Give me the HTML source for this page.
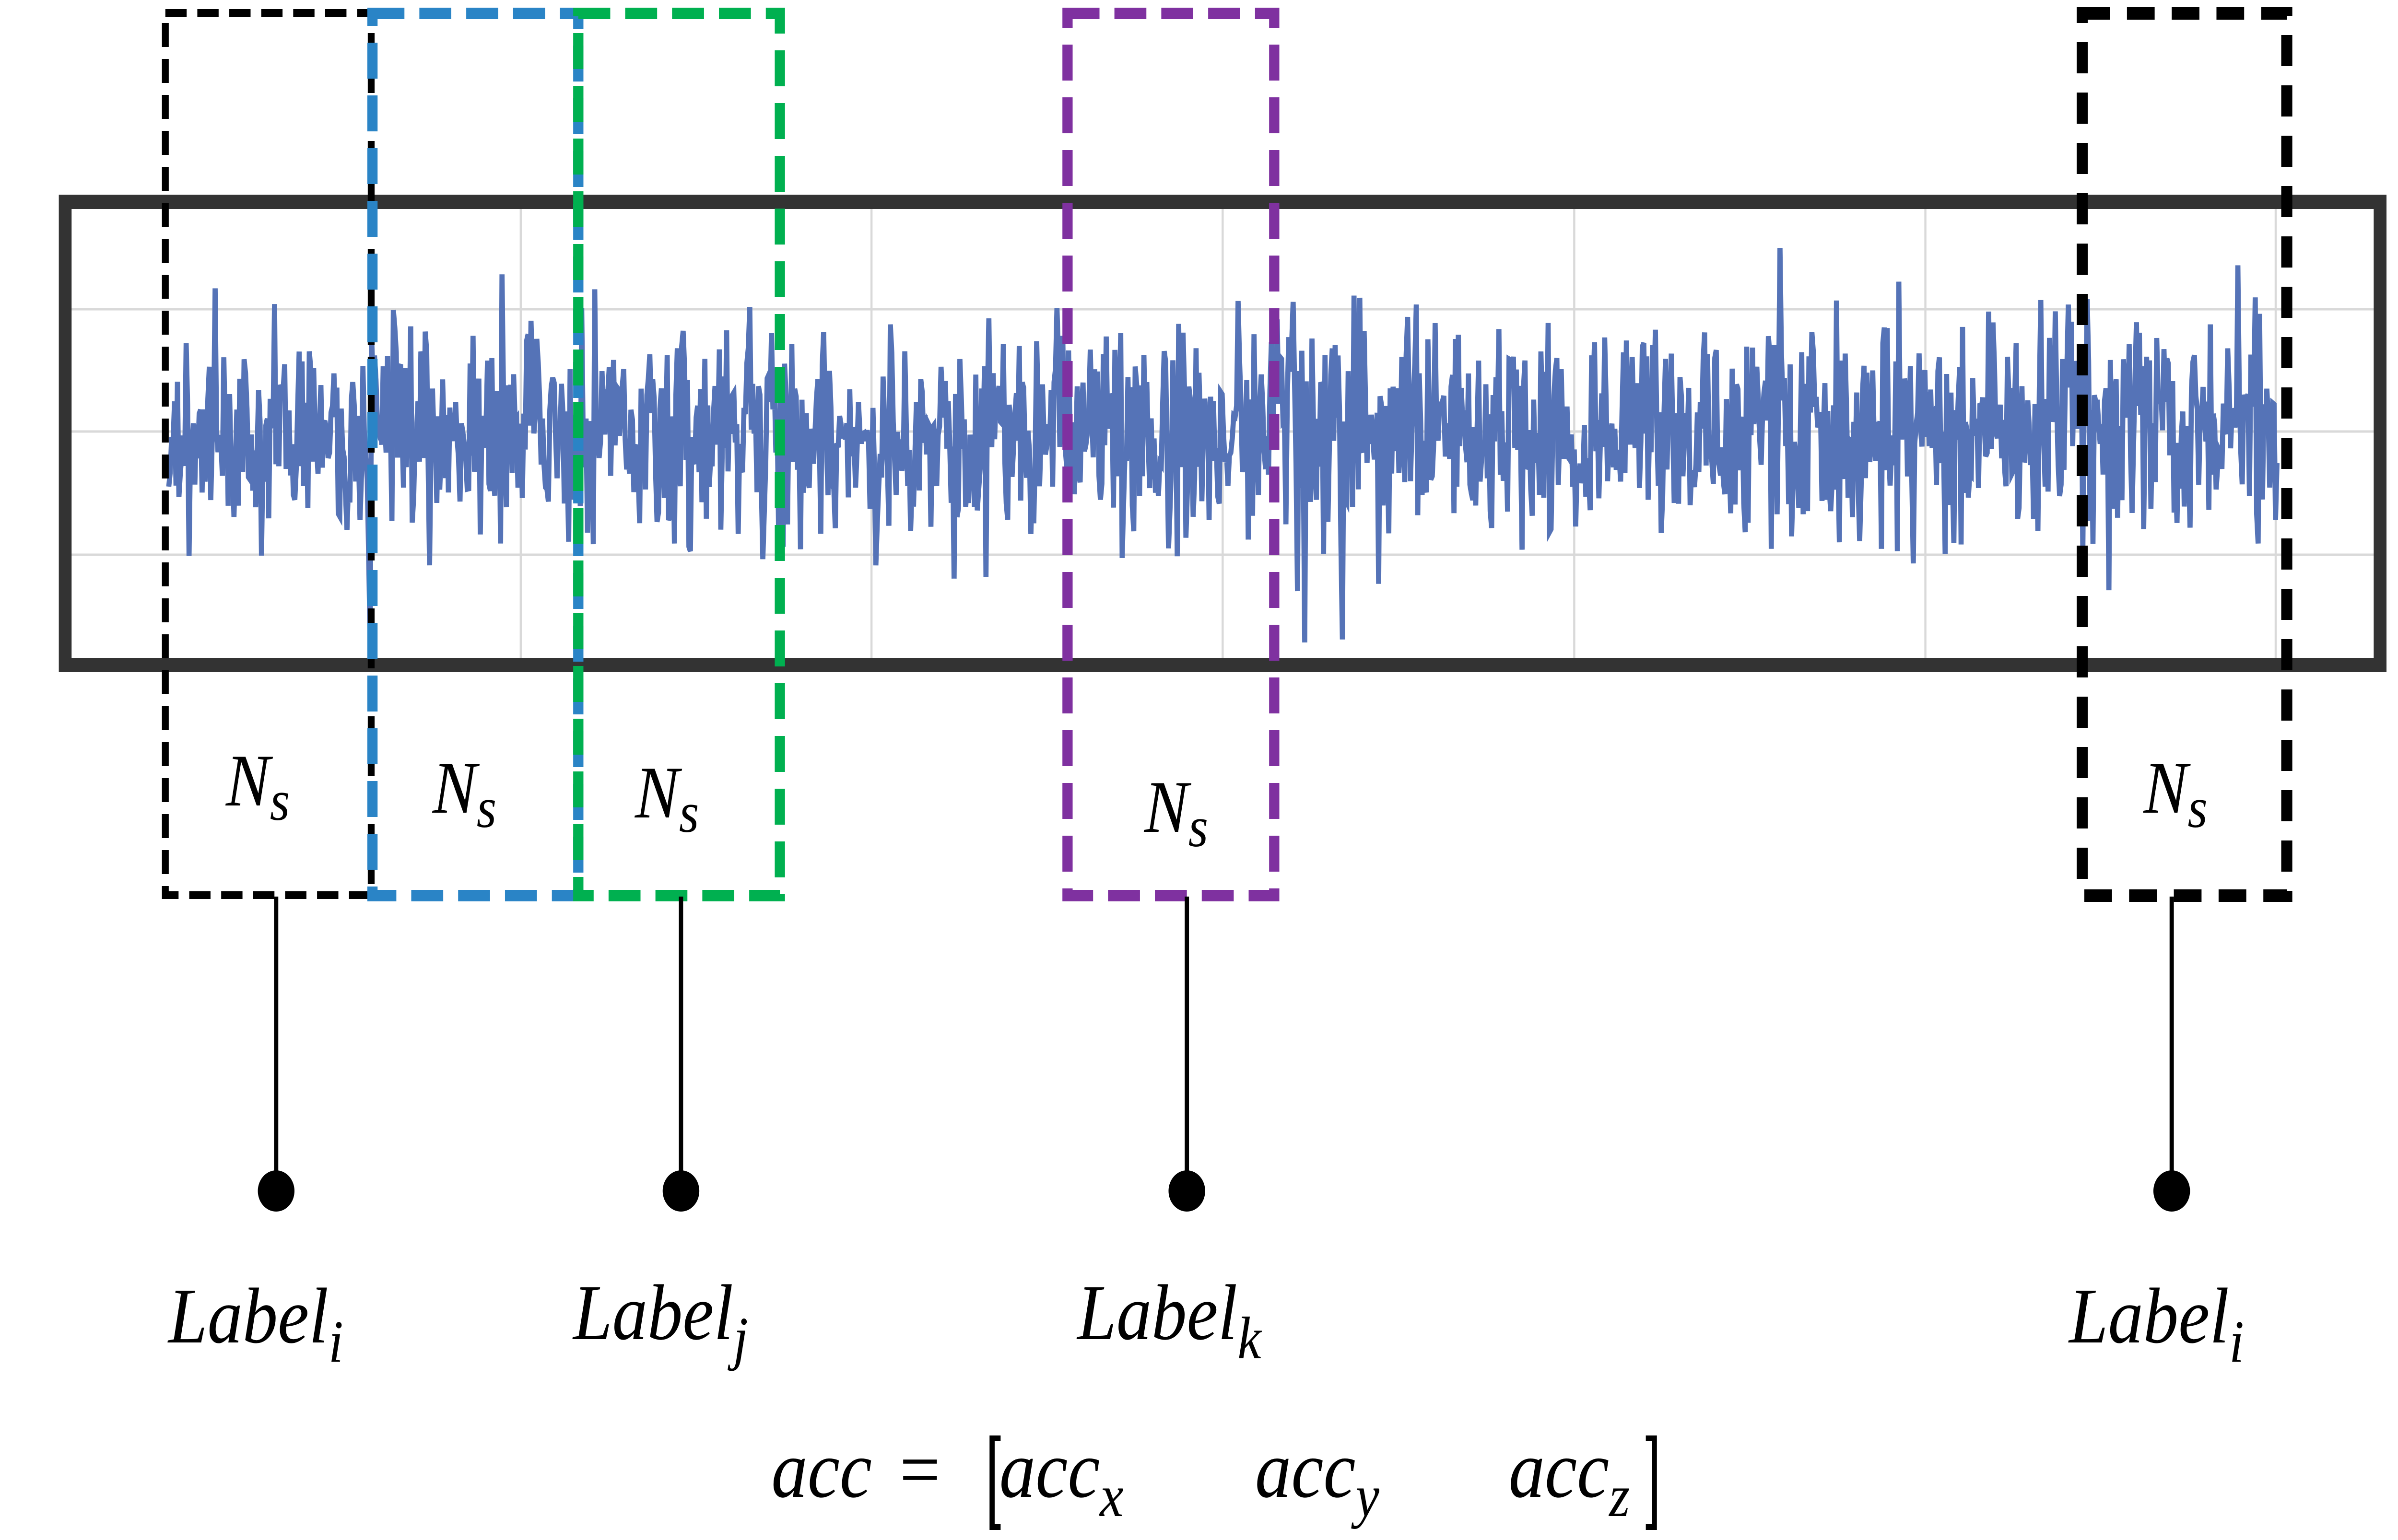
<!DOCTYPE html>
<html><head><meta charset="utf-8"><style>
html,body{margin:0;padding:0;background:#fff;overflow:hidden;width:100%;height:100%;}
svg{display:block;position:fixed;left:0;top:0;width:100vw;height:100vh;}
text{font-family:"Liberation Serif",serif;font-style:italic;fill:#000;}
</style></head><body>
<svg id="s" viewBox="0 0 5627 3212" preserveAspectRatio="none" xmlns="http://www.w3.org/2000/svg">
<rect width="5627" height="3212" fill="#fff"/>
<g stroke="#d9d9d9" stroke-width="5">
<line x1="153" y1="645" x2="5585" y2="645"/>
<line x1="153" y1="900" x2="5585" y2="900"/>
<line x1="153" y1="1157" x2="5585" y2="1157"/>
<line x1="1222" y1="430" x2="1222" y2="1375"/>
<line x1="2045" y1="430" x2="2045" y2="1375"/>
<line x1="2869" y1="430" x2="2869" y2="1375"/>
<line x1="3694" y1="430" x2="3694" y2="1375"/>
<line x1="4518" y1="430" x2="4518" y2="1375"/>
<line x1="5340" y1="430" x2="5340" y2="1375"/>
</g>
<polyline id="sig" fill="none" stroke="#5573b7" stroke-width="12" stroke-linejoin="miter" points=""/>
<rect x="153" y="421" width="5432" height="966" fill="none" stroke="#333" stroke-width="30"/>
<rect x="388" y="27" width="483" height="1840" fill="none" stroke="#000" stroke-width="16" stroke-dasharray="50 25"/>
<rect x="874" y="28" width="483" height="1840" fill="none" stroke="#2a84c6" stroke-width="24" stroke-dasharray="75 35"/>
<rect x="1357" y="28" width="473" height="1840" fill="none" stroke="#00b050" stroke-width="24" stroke-dasharray="75 35"/>
<rect x="2505" y="28" width="485" height="1840" fill="none" stroke="#7f31a0" stroke-width="24" stroke-dasharray="75 35"/>
<rect x="4886" y="28" width="480" height="1840" fill="none" stroke="#000" stroke-width="26" stroke-dasharray="65 40"/>
<g stroke="#000" stroke-width="10">
<line x1="648" y1="1870" x2="648" y2="2484"/>
<line x1="1598" y1="1870" x2="1598" y2="2484"/>
<line x1="2785" y1="1870" x2="2785" y2="2484"/>
<line x1="5096" y1="1870" x2="5096" y2="2484"/>
</g>
<g fill="#000">
<circle cx="648" cy="2484" r="43"/><circle cx="1598" cy="2484" r="43"/>
<circle cx="2785" cy="2484" r="43"/><circle cx="5096" cy="2484" r="43"/>
</g>
<g font-size="155">
<text x="530" y="1680">N<tspan font-size="120" dy="30">s</tspan></text>
<text x="1015" y="1695">N<tspan font-size="120" dy="30">s</tspan></text>
<text x="1490" y="1705">N<tspan font-size="120" dy="30">s</tspan></text>
<text x="2685" y="1735">N<tspan font-size="120" dy="30">s</tspan></text>
<text x="5030" y="1695">N<tspan font-size="120" dy="30">s</tspan></text>
</g>
<g font-size="165">
<text x="395" y="2800">Label<tspan font-size="125" dy="40">i</tspan></text>
<text x="1345" y="2793">Label<tspan font-size="125" dy="40">j</tspan></text>
<text x="2528" y="2793">Label<tspan font-size="125" dy="40">k</tspan></text>
<text x="4855" y="2800">Label<tspan font-size="125" dy="40">i</tspan></text>
</g>
<g font-size="170">
<text x="1810" y="3122">acc</text>
<text x="2100" y="3122" font-style="normal">=</text>
<text x="2345" y="3122">acc<tspan font-size="125" dy="40">x</tspan></text>
<text x="2945" y="3122">acc<tspan font-size="125" dy="40">y</tspan></text>
<text x="3540" y="3122">acc<tspan font-size="125" dy="40">z</tspan></text>
</g>
<path d="M2348 3000 H2328 V3185 H2348" fill="none" stroke="#000" stroke-width="12"/>
<path d="M3862 3000 H3882 V3185 H3862" fill="none" stroke="#000" stroke-width="12"/>
</svg>
<script>
(function(){
var seed=12345;function r(){seed=(seed*1103515245+12345)%2147483648;return seed/2147483648;}
function g(){return (r()+r()+r()+r()-2)*1.7;}
var pts=[],x=396;
while(x<5346){
 var t=g()*115;
 if(r()<0.03)t*=1.9;
 var y=900+t; if(y<460)y=460; if(y>1340)y=1340;
 pts.push(x.toFixed(1)+","+y.toFixed(1));
 x+=3.4;
}
document.getElementById("sig").setAttribute("points",pts.join(" "));
})();
</script>
</body></html>
